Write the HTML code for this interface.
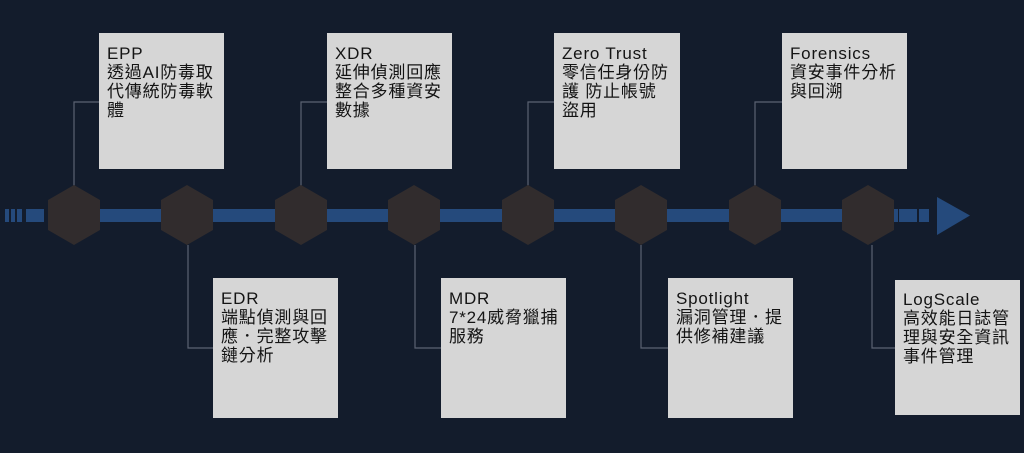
<!DOCTYPE html>
<html><head><meta charset="utf-8"><style>
html,body{margin:0;padding:0;background:#131c2c;}
svg{display:block}
text{font-family:"Liberation Sans","Noto Sans CJK TC",sans-serif;font-size:17px;letter-spacing:0.8px;fill:#141414}
</style></head><body>
<svg width="1024" height="453" viewBox="0 0 1024 453" xmlns="http://www.w3.org/2000/svg">
<rect width="1024" height="453" fill="#131c2c"/>
<g fill="#254a7c">
<rect x="5" y="209" width="4" height="13"/>
<rect x="11" y="209" width="4" height="13"/>
<rect x="17" y="209" width="5" height="13"/>
<rect x="26" y="209" width="18" height="13"/>
<rect x="48" y="209" width="850" height="13"/>
<rect x="899" y="209" width="18" height="13"/>
<rect x="919" y="209" width="10" height="13"/>
<polygon points="937,197 970,215.5 937,235"/>
</g>
<g stroke="#5b6272" stroke-width="1.2" fill="none">
<polyline points="74,186 74,102 99,102"/>
<polyline points="301,186 301,102 327,102"/>
<polyline points="528,186 528,102 554,102"/>
<polyline points="755,186 755,102 782,102"/>
<polyline points="188,245 188,348 213,348"/>
<polyline points="415,245 415,348 441,348"/>
<polyline points="641,245 641,348 668,348"/>
<polyline points="872,245 872,348 895,348"/>
</g>
<g fill="#312c2d">
<polygon points="74,185 100,200 100,230 74,245 48,230 48,200"/>
<polygon points="187,185 213,200 213,230 187,245 161,230 161,200"/>
<polygon points="301,185 327,200 327,230 301,245 275,230 275,200"/>
<polygon points="414,185 440,200 440,230 414,245 388,230 388,200"/>
<polygon points="528,185 554,200 554,230 528,245 502,230 502,200"/>
<polygon points="641,185 667,200 667,230 641,245 615,230 615,200"/>
<polygon points="755,185 781,200 781,230 755,245 729,230 729,200"/>
<polygon points="868,185 894,200 894,230 868,245 842,230 842,200"/>
</g>
<g fill="#d6d6d6">
<rect x="99" y="33" width="125" height="136"/>
<rect x="327" y="33" width="125" height="136"/>
<rect x="554" y="33" width="126" height="136"/>
<rect x="782" y="33" width="125" height="136"/>
<rect x="213" y="278" width="125" height="140"/>
<rect x="441" y="278" width="125" height="140"/>
<rect x="668" y="278" width="125" height="140"/>
<rect x="895" y="280" width="125" height="135"/>
</g>
<text x="107" y="59">EPP</text>
<text x="107" y="78">透過AI防毒取</text>
<text x="107" y="97">代傳統防毒軟</text>
<text x="107" y="116">體</text>
<text x="335" y="59">XDR</text>
<text x="335" y="78">延伸偵測回應</text>
<text x="335" y="97">整合多種資安</text>
<text x="335" y="116">數據</text>
<text x="562" y="59">Zero Trust</text>
<text x="562" y="78">零信任身份防</text>
<text x="562" y="97">護  防止帳號</text>
<text x="562" y="116">盜用</text>
<text x="790" y="59">Forensics</text>
<text x="790" y="78">資安事件分析</text>
<text x="790" y="97">與回溯</text>
<text x="221" y="304">EDR</text>
<text x="221" y="323">端點偵測與回</text>
<text x="221" y="342">應．完整攻擊</text>
<text x="221" y="361">鏈分析</text>
<text x="449" y="304">MDR</text>
<text x="449" y="323">7*24威脅獵捕</text>
<text x="449" y="342">服務</text>
<text x="676" y="304">Spotlight</text>
<text x="676" y="323">漏洞管理．提</text>
<text x="676" y="342">供修補建議</text>
<text x="903" y="305">LogScale</text>
<text x="903" y="324">高效能日誌管</text>
<text x="903" y="343">理與安全資訊</text>
<text x="903" y="362">事件管理</text>
</svg>
</body></html>
